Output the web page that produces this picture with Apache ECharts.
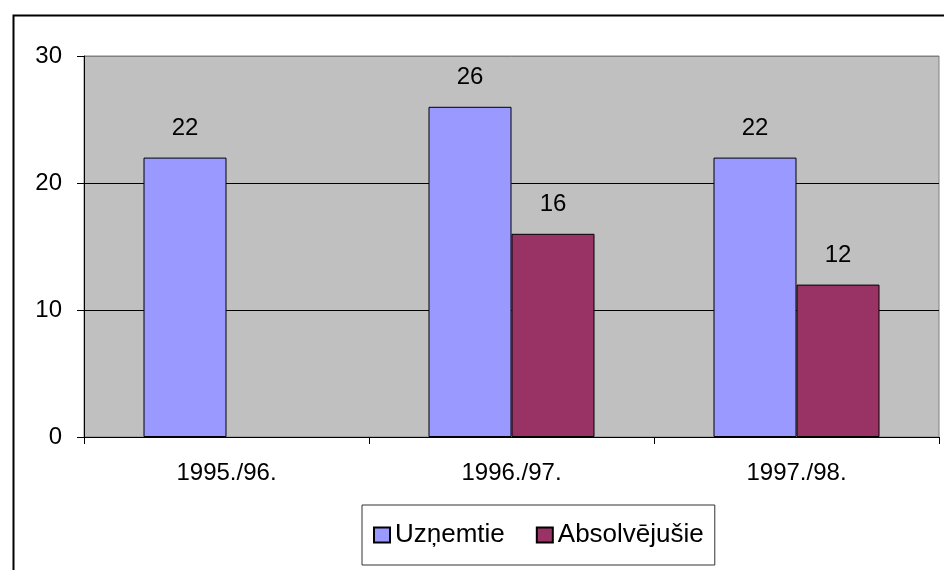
<!DOCTYPE html>
<html>
<head>
<meta charset="utf-8">
<script src="https://cdn.jsdelivr.net/npm/echarts@6/dist/echarts.min.js"></script>
<style>
html,body{margin:0;padding:0;background:#fff;}
#c{width:944px;height:570px;}
</style>
</head>
<body>
<div id="c"></div>
<script>
const categories = ['1995./96.', '1996./97.', '1997./98.'];
const uznemtie = [22, 26, 22];
const absolvejusie = [null, 16, 12];
const seriesNames = ['Uzņemtie', 'Absolvējušie'];
const yTicks = [0, 10, 20, 30];

const chart = echarts.init(document.getElementById('c'), null, {renderer: 'canvas'});
const font = '"Liberation Sans", Arial, sans-serif';
const labelCfg = {
  show: true, position: 'top', distance: 17,
  color: '#000', fontSize: 24, fontFamily: font
};
chart.setOption({
  animation: false,
  backgroundColor: '#fff',
  graphic: [{
    type: 'rect', left: 11, top: 13, z: 100,
    shape: {x: 0, y: 0, width: 1000, height: 1000},
    style: {fill: 'none', stroke: '#000', lineWidth: 2}
  }],
  grid: {
    left: 84, top: 56, right: 5, bottom: 133,
    show: true, backgroundColor: '#c0c0c0', borderColor: '#808080', borderWidth: 1
  },
  legend: {
    data: seriesNames,
    left: 362, top: 505,
    padding: [17, 11],
    itemWidth: 16, itemHeight: 15, itemGap: 31,
    borderColor: '#333', borderWidth: 1,
    backgroundColor: '#fff',
    textStyle: {fontSize: 26, fontFamily: font, color: '#000'},
    icon: 'rect'
  },
  xAxis: {
    type: 'category',
    data: categories,
    axisLine: {lineStyle: {color: '#000', width: 1}},
    axisTick: {show: true, length: 7, lineStyle: {color: '#000'}},
    axisLabel: {margin: 24, color: '#000', fontSize: 24, fontFamily: font},
    splitLine: {show: false}
  },
  yAxis: {
    type: 'value',
    min: yTicks[0], max: yTicks[yTicks.length - 1], interval: 10,
    axisLine: {show: true, lineStyle: {color: '#000', width: 1}},
    axisTick: {show: true, length: 7, lineStyle: {color: '#000'}},
    axisLabel: {margin: 22, color: '#000', fontSize: 24, fontFamily: font},
    splitLine: {show: true, lineStyle: {color: ['#000', '#000', '#000', '#808080'], width: 1}}
  },
  series: [
    {
      name: seriesNames[0], type: 'bar', data: uznemtie,
      barWidth: 83, barGap: '0%',
      itemStyle: {color: '#9999ff', borderColor: '#000', borderWidth: 1},
      label: labelCfg
    },
    {
      name: seriesNames[1], type: 'bar', data: absolvejusie,
      barWidth: 83, barGap: '0%',
      itemStyle: {color: '#993366', borderColor: '#000', borderWidth: 1},
      label: labelCfg
    }
  ]
});
</script>
</body>
</html>
